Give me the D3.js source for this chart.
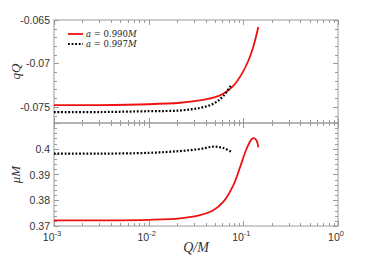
<!DOCTYPE html>
<html><head><meta charset="utf-8">
<script src="https://cdn.jsdelivr.net/npm/d3@7"></script>
<style>body{margin:0;background:#fff}svg{display:block}</style>
</head><body>
<svg id="c" width="374" height="262"></svg>
<script>
// Data
const xTickExps = [-3, -2, -1, 0];
const qTicks = [-0.065, -0.07, -0.075];
const qTickLabels = ["-0.065", "-0.07", "-0.075"];
const muTicks = [0.37, 0.38, 0.39, 0.4];
const muTickLabels = ["0.37", "0.38", "0.39", "0.4"];
const seriesNames = ["a = 0.990M", "a = 0.997M"];

const redQ_x = [0.001, 0.003, 0.01, 0.0214, 0.0348, 0.0482, 0.0614, 0.0783, 0.0961, 0.113, 0.127, 0.144];
const redQ_y = [-0.0748, -0.0748, -0.0747, -0.07453, -0.07426, -0.07395, -0.07349, -0.07259, -0.07123, -0.06969, -0.06814, -0.06581];
const blkQ_x = [0.001, 0.003, 0.01, 0.0214, 0.0348, 0.0482, 0.0614, 0.0754];
const blkQ_y = [-0.0756, -0.0756, -0.0755, -0.07542, -0.07512, -0.07465, -0.07376, -0.0724];
const redMu_x = [0.001, 0.003, 0.01, 0.0214, 0.0348, 0.0482, 0.0614, 0.0783, 0.0923, 0.108, 0.1224, 0.1297, 0.1384, 0.144];
const redMu_y = [0.3722, 0.3722, 0.3724, 0.37296, 0.37423, 0.37615, 0.37935, 0.38577, 0.3928, 0.3999, 0.4037, 0.4041, 0.4031, 0.4005];
const blkMu_x = [0.001, 0.003, 0.01, 0.0214, 0.0348, 0.0482, 0.0614, 0.0754];
const blkMu_y = [0.3981, 0.3981, 0.3984, 0.3991, 0.3999, 0.4008, 0.4003, 0.3987];

const svg = d3.select("#c");
const L = 54, R = 338, T = 20, M = 123, B = 226;
const gray = "#9a9a9a";
const x = d3.scaleLog().domain([1e-3, 1]).range([L, R]);
const yQ = d3.scaleLinear().domain([-0.07686, -0.065]).range([M, T]);
const yMu = d3.scaleLinear().domain([0.37, 0.41]).range([B, M]);

const xMinor = [];
for (let e = -3; e < 0; e++) for (let k = 2; k <= 9; k++) xMinor.push(k * Math.pow(10, e));

function frame(y, top, bot, minorStep, majorStep) {
  const g = svg.append("g");
  g.append("rect").attr("x", L).attr("y", top).attr("width", R - L).attr("height", bot - top)
    .attr("fill", "none").attr("stroke", gray).attr("stroke-width", 1);
  const [d0, d1] = y.domain();
  const minors = [];
  for (let v = Math.ceil(d0 / minorStep - 1e-6) * minorStep; v <= d1 + 1e-9; v += minorStep) minors.push(v);
  minors.forEach(v => {
    const isMaj = Math.abs(v / majorStep - Math.round(v / majorStep)) < 1e-6;
    const len = isMaj ? 5 : 3;
    const yy = Math.round(y(v)) + 0.5;
    g.append("line").attr("x1", L).attr("x2", L + len).attr("y1", yy).attr("y2", yy).attr("stroke", gray);
    g.append("line").attr("x1", R).attr("x2", R - len).attr("y1", yy).attr("y2", yy).attr("stroke", gray);
  });
  return g;
}
frame(yQ, T, M, 0.001, 0.005);
frame(yMu, M, B, 0.002, 0.01);

function xticks(yy, dir, both) {
  xMinor.concat(xTickExps.map(e => Math.pow(10, e))).forEach(v => {
    const isMaj = xTickExps.some(e => Math.abs(Math.log10(v) - e) < 1e-6);
    const len = isMaj ? 5 : 3;
    const xx = Math.round(x(v)) + 0.5;
    svg.append("line").attr("x1", xx).attr("x2", xx).attr("y1", both ? yy - len : yy).attr("y2", yy + dir * len).attr("stroke", gray);
  });
}
xticks(T, 1, false);
xticks(M, 1, true);
xticks(B, -1, false);

const lab = {"font-family": "Liberation Sans, Arial, sans-serif", "font-size": "10.5px", "fill": "#333"};
function applyAttrs(sel, o) { Object.entries(o).forEach(([k, v]) => sel.attr(k, v)); return sel; }
qTicks.forEach((v, i) => applyAttrs(svg.append("text"), lab).attr("x", 50).attr("y", yQ(v) + 4)
  .attr("text-anchor", "end").text(qTickLabels[i]));
muTicks.forEach((v, i) => applyAttrs(svg.append("text"), lab).attr("x", 50).attr("y", yMu(v) + 4)
  .attr("text-anchor", "end").text(muTickLabels[i]));
xTickExps.forEach(e => {
  const t = applyAttrs(svg.append("text"), lab).attr("x", x(Math.pow(10, e)) - 2).attr("y", 241).attr("text-anchor", "middle");
  t.append("tspan").text("10");
  t.append("tspan").attr("dy", -5).attr("font-size", "7.5px").text(String(e));
});

svg.append("text").attr("transform", `translate(20,${(T + M) / 2}) rotate(-90)`).attr("text-anchor", "middle")
  .attr("font-family", "Liberation Serif, serif").attr("font-style", "italic").attr("font-size", "13px").attr("fill", "#333").text("qQ");
svg.append("text").attr("transform", `translate(20,${(M + B) / 2}) rotate(-90)`).attr("text-anchor", "middle")
  .attr("font-family", "Liberation Serif, serif").attr("font-style", "italic").attr("font-size", "13px").attr("fill", "#333").text("μM");
svg.append("text").attr("x", 196).attr("y", 252).attr("text-anchor", "middle")
  .attr("font-family", "Liberation Serif, serif").attr("font-style", "italic").attr("font-size", "14px").attr("fill", "#333").text("Q/M");

const zip = (a, b) => a.map((v, i) => [v, b[i]]);
const smooth = (ys) => d3.line().x(d => x(d[0])).y(d => ys(d[1])).curve(d3.curveCatmullRom.alpha(0.5));
svg.append("clipPath").attr("id", "cq").append("rect").attr("x", L).attr("y", T).attr("width", R - L).attr("height", M - T);
svg.append("path").attr("clip-path", "url(#cq)").attr("d", smooth(yQ)(zip(redQ_x, redQ_y))).attr("fill", "none").attr("stroke", "#ee1111").attr("stroke-width", 1.8);
svg.append("path").attr("clip-path", "url(#cq)").attr("d", smooth(yQ)(zip(blkQ_x, blkQ_y))).attr("fill", "none").attr("stroke", "#000").attr("stroke-width", 2.2).attr("stroke-dasharray", "1.8,1.8");
svg.append("path").attr("d", smooth(yMu)(zip(redMu_x, redMu_y))).attr("fill", "none").attr("stroke", "#ee1111").attr("stroke-width", 1.8);
svg.append("path").attr("d", smooth(yMu)(zip(blkMu_x, blkMu_y))).attr("fill", "none").attr("stroke", "#000").attr("stroke-width", 2.2).attr("stroke-dasharray", "1.8,1.8");

[["#ee1111", null], ["#000", "1.8,1.8"]].forEach((s, i) => {
  const yy = 34 + i * 10;
  const l = svg.append("line").attr("x1", 68).attr("x2", 83).attr("y1", yy).attr("y2", yy).attr("stroke", s[0]).attr("stroke-width", s[1] ? 2.2 : 1.8);
  if (s[1]) l.attr("stroke-dasharray", s[1]);
  const t = svg.append("text").attr("x", 86).attr("y", yy + 3).attr("font-family", "DejaVu Serif, serif").attr("font-size", "8.5px").attr("fill", "#222");
  const parts = seriesNames[i].split(" ");
  t.append("tspan").attr("font-style", "italic").text(parts[0]);
  t.append("tspan").text(" " + parts[1] + " " + parts[2].slice(0, -1));
  t.append("tspan").attr("font-style", "italic").text("M");
});
</script>
</body></html>
